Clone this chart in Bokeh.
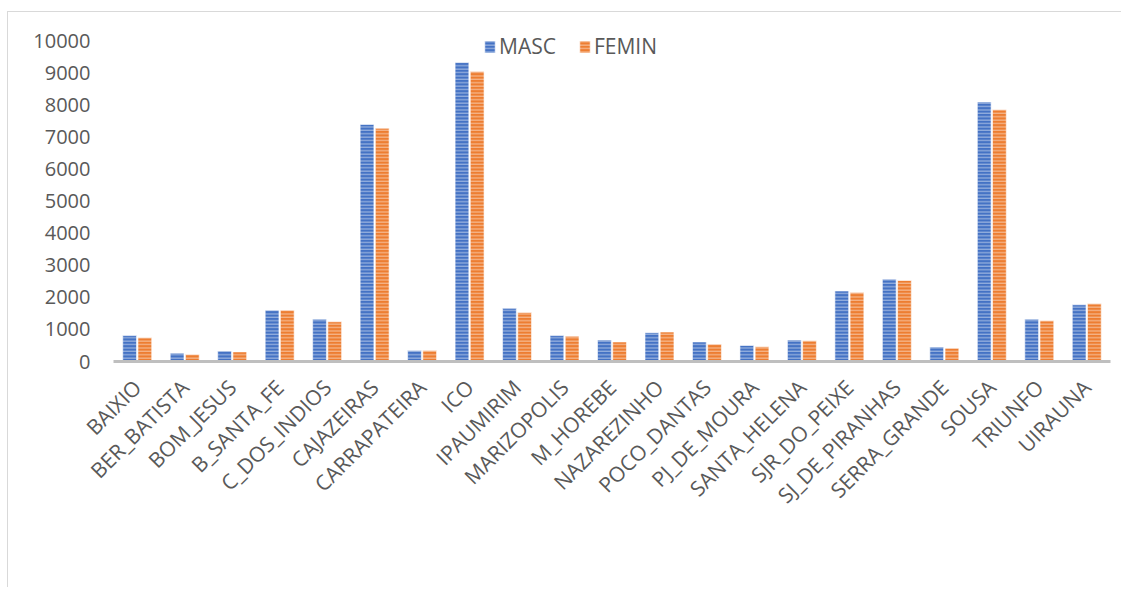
import math
from bokeh.plotting import figure
from bokeh.models import ColumnDataSource, FactorRange, Range1d, FixedTicker, Legend, LegendItem
from bokeh.transform import dodge
from bokeh.embed import file_html
from bokeh.resources import INLINE

cities = ["BAIXIO", "BER_BATISTA", "BOM_JESUS", "B_SANTA_FE", "C_DOS_INDIOS", "CAJAZEIRAS",
          "CARRAPATEIRA", "ICO", "IPAUMIRIM", "MARIZOPOLIS", "M_HOREBE", "NAZAREZINHO",
          "POCO_DANTAS", "PJ_DE_MOURA", "SANTA_HELENA", "SJR_DO_PEIXE", "SJ_DE_PIRANHAS",
          "SERRA_GRANDE", "SOUSA", "TRIUNFO", "UIRAUNA"]
masc = [810, 260, 330, 1600, 1320, 7400, 340, 9330, 1660, 810, 670, 900,
        610, 500, 670, 2200, 2570, 450, 8100, 1320, 1770]
femin = [740, 220, 300, 1600, 1240, 7280, 340, 9050, 1530, 790, 610, 920,
         540, 460, 650, 2150, 2530, 415, 7860, 1270, 1800]
y_ticks = list(range(0, 10001, 1000))

BLUE = "#4472C4"
ORANGE = "#ED7D31"
TXT = "#595959"
FONT = "Open Sans"

src = ColumnDataSource(dict(city=cities, masc=masc, femin=femin))

p = figure(x_range=FactorRange(*cities, range_padding=0), y_range=Range1d(0, 10300),
           width=1114, height=576, output_backend="svg", toolbar_location=None,
           min_border_left=105, min_border_right=12, min_border_top=19, min_border_bottom=227)
p.margin = (11, 0, 0, 7)
p.styles = {"border-left": "1px solid #d9d9d9", "border-top": "1px solid #d9d9d9"}

r1 = p.vbar(x=dodge("city", -0.16, range=p.x_range), top="masc", width=0.29, source=src,
            fill_color=BLUE, line_color="white", line_alpha=0.6, line_width=1,
            hatch_pattern="horizontal_line", hatch_color="white", hatch_alpha=0.55,
            hatch_scale=3.4, hatch_weight=1)
r2 = p.vbar(x=dodge("city", 0.16, range=p.x_range), top="femin", width=0.29, source=src,
            fill_color=ORANGE, line_color="white", line_alpha=0.6, line_width=1,
            hatch_pattern="horizontal_line", hatch_color="white", hatch_alpha=0.55,
            hatch_scale=3.4, hatch_weight=1)

p.outline_line_color = None
p.xgrid.grid_line_color = None
p.ygrid.grid_line_color = None

p.yaxis.ticker = FixedTicker(ticks=y_ticks)
p.yaxis.axis_line_color = None
p.yaxis.major_tick_line_color = None
p.yaxis.minor_tick_line_color = None
p.yaxis.major_label_text_font = FONT
p.yaxis.major_label_text_font_size = "20px"
p.yaxis.major_label_text_color = TXT
p.yaxis.major_label_standoff = 17

p.xaxis.axis_line_color = "#bfbfbf"
p.xaxis.axis_line_width = 3
p.xaxis.major_tick_line_color = None
p.xaxis.minor_tick_line_color = None
p.xaxis.major_label_orientation = math.pi / 4
p.xaxis.major_label_text_font = FONT
p.xaxis.major_label_text_font_size = "21px"
p.xaxis.major_label_text_color = TXT
p.xaxis.major_label_standoff = 16

legend = Legend(items=[LegendItem(label="MASC", renderers=[r1]),
                       LegendItem(label="FEMIN", renderers=[r2])],
                orientation="horizontal", location=(370, 301))
legend.label_text_font = FONT
legend.label_text_font_size = "21px"
legend.label_text_color = TXT
legend.glyph_width = 13
legend.glyph_height = 15
legend.spacing = 22
legend.padding = 0
legend.margin = 0
legend.label_standoff = 3
legend.border_line_color = None
legend.background_fill_alpha = 0
p.add_layout(legend, "center")

open("out.html", "w").write(file_html(p, INLINE))
